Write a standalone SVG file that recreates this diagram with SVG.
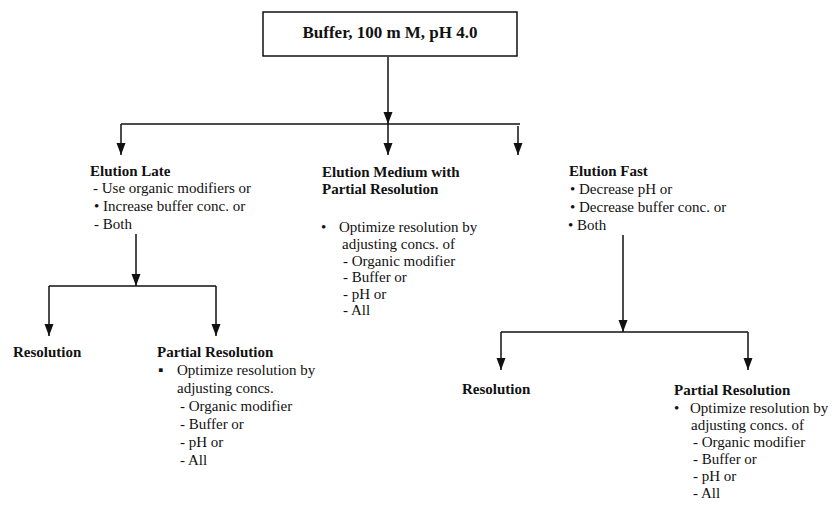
<svg xmlns="http://www.w3.org/2000/svg" width="833" height="506" viewBox="0 0 833 506">
  <style>
    text { font-family: "Liberation Serif", "Times New Roman", serif; font-size: 15px; fill: #111; }
    .b { font-weight: bold; }
    .box { fill: #fff; stroke: #111; stroke-width: 1.5; }
    .wire { fill: none; stroke: #111; stroke-width: 1.5; }
    .arrow { fill: none; stroke: #111; stroke-width: 1.5; marker-end: url(#tip); }
  </style>
  <defs>
    <marker id="tip" viewBox="0 -5 12 10" refX="12" refY="0" markerWidth="12" markerHeight="10" markerUnits="userSpaceOnUse" orient="auto">
      <path d="M0,-4.5 L12,0 L0,4.5 z" fill="#111"/>
    </marker>
  </defs>
  <rect width="833" height="506" fill="#fff"/>

  <g id="connectors">
    <!-- root to first tier -->
    <path class="arrow" d="M388,57 V124"/>
    <path class="wire" d="M121,124 H520"/>
    <path class="arrow" d="M121,124 V155"/>
    <path class="arrow" d="M388,124 V155"/>
    <path class="arrow" d="M518,126 V155"/>
    <!-- late elution branch -->
    <path class="arrow" d="M136,234 V286"/>
    <path class="wire" d="M49,286 H216"/>
    <path class="arrow" d="M49,286 V336"/>
    <path class="arrow" d="M216,286 V336"/>
    <!-- fast elution branch -->
    <path class="arrow" d="M623,235 V332"/>
    <path class="wire" d="M501,332 H748"/>
    <path class="arrow" d="M501,332 V370"/>
    <path class="arrow" d="M748,332 V370"/>
  </g>

  <g id="root">
    <rect class="box" x="263" y="12" width="254" height="44"/>
    <text class="b" x="390" y="38" text-anchor="middle" style="font-size:17px">Buffer, 100 m M, pH 4.0</text>
  </g>

  <g id="elution-late">
    <text class="b" x="90" y="176">Elution Late</text>
    <text x="93" y="193">- Use organic modifiers or</text>
    <text x="94" y="211">• Increase buffer conc. or</text>
    <text x="94" y="229">- Both</text>
  </g>

  <g id="elution-medium">
    <text class="b" x="322" y="177">Elution Medium with</text>
    <text class="b" x="322" y="194">Partial Resolution</text>
    <text x="321" y="232">•</text>
    <text x="339" y="232">Optimize resolution by</text>
    <text x="342" y="249">adjusting concs. of</text>
    <text x="343" y="266">-  Organic modifier</text>
    <text x="343" y="282">-  Buffer or</text>
    <text x="343" y="299">-  pH or</text>
    <text x="343" y="315">-  All</text>
  </g>

  <g id="elution-fast">
    <text class="b" x="569" y="176">Elution Fast</text>
    <text x="570" y="194">•  Decrease pH or</text>
    <text x="570" y="212">•  Decrease buffer conc. or</text>
    <text x="568" y="230">•  Both</text>
  </g>

  <g id="late-resolution">
    <text class="b" x="13" y="357">Resolution</text>
  </g>

  <g id="late-partial">
    <text class="b" x="157" y="357">Partial Resolution</text>
    <text x="158" y="375">▪</text>
    <text x="177" y="375">Optimize resolution by</text>
    <text x="177" y="393">adjusting concs.</text>
    <text x="180" y="411">-  Organic modifier</text>
    <text x="180" y="429">-  Buffer or</text>
    <text x="180" y="447">-  pH or</text>
    <text x="180" y="465">-  All</text>
  </g>

  <g id="fast-resolution">
    <text class="b" x="462" y="394">Resolution</text>
  </g>

  <g id="fast-partial">
    <text class="b" x="674" y="395">Partial Resolution</text>
    <text x="674" y="413">•</text>
    <text x="690" y="413">Optimize resolution by</text>
    <text x="691" y="430">adjusting concs. of</text>
    <text x="693" y="447">-  Organic modifier</text>
    <text x="693" y="464">-  Buffer or</text>
    <text x="693" y="481">-  pH or</text>
    <text x="693" y="498">-  All</text>
  </g>
</svg>
